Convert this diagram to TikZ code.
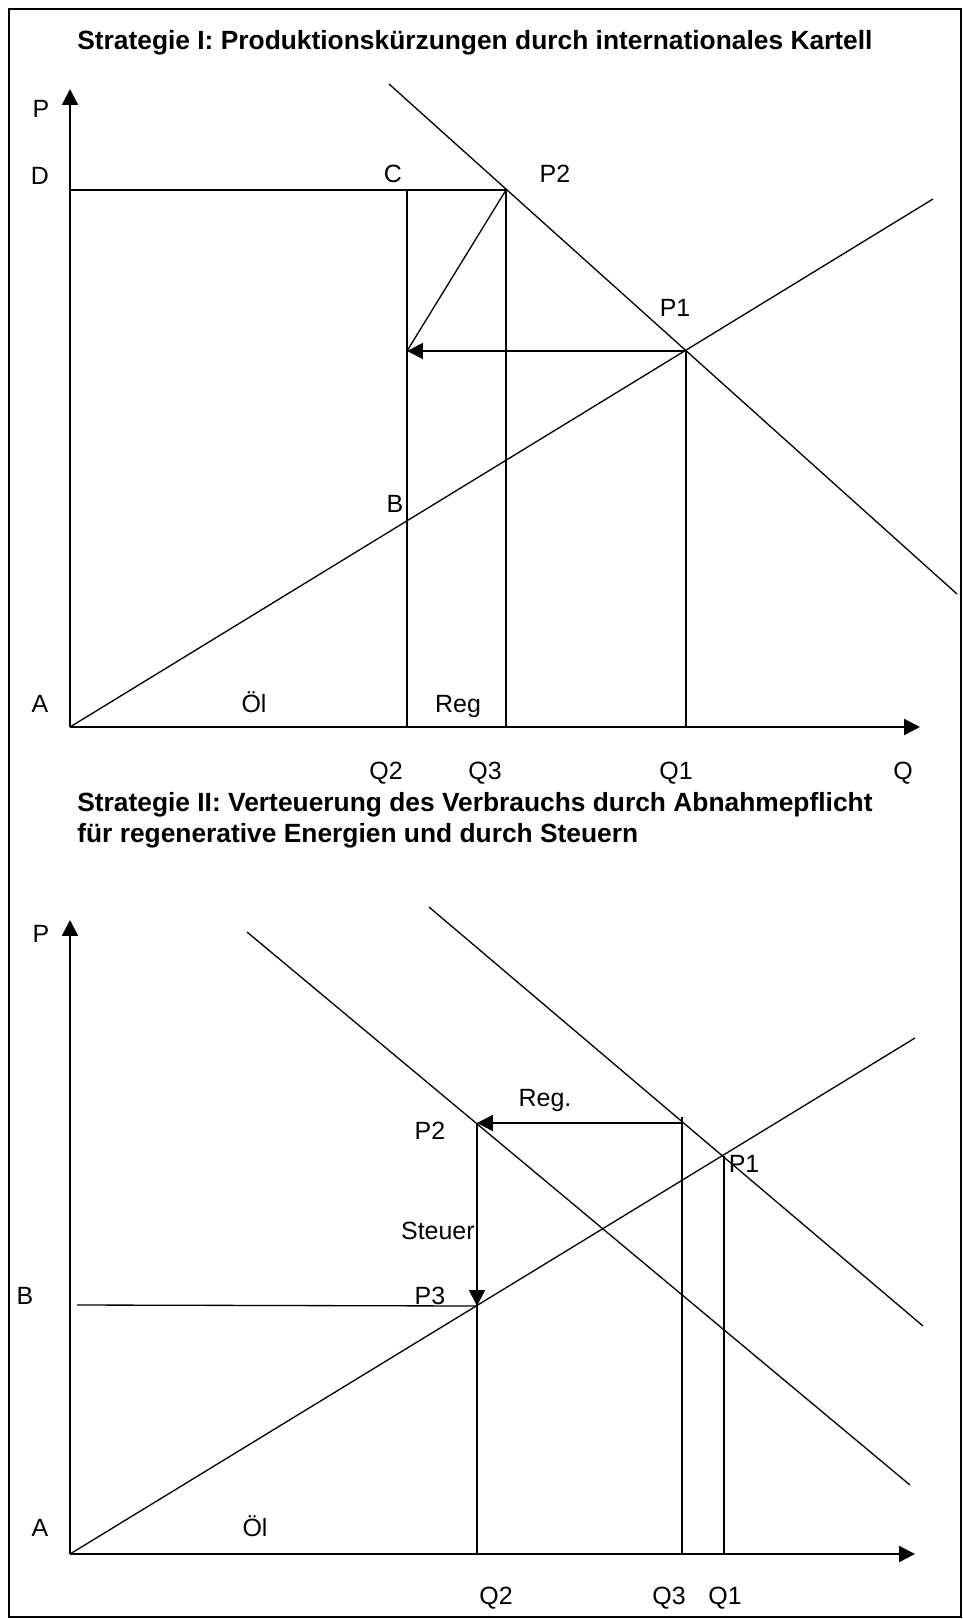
\documentclass[tikz,border=0pt]{standalone}
\usepackage{fontspec}
\setmainfont{Liberation Sans}
\usetikzlibrary{arrows.meta}

\begin{document}
\begin{tikzpicture}[
        x=0.02cm, y=-0.02cm,
        % Stile fuer Linien
        axis/.style={line width=1.3pt, -{Triangle[length=9pt, width=9pt]}},
        curve/.style={line width=0.75pt},
        movearrow/.style={line width=1pt, -{Triangle[length=9pt, width=9pt]}},
        % Stile fuer Beschriftungen
        lbl/.style={anchor=base, inner sep=0pt, font=\fontsize{14.2}{17}\selectfont},
        headline/.style={anchor=base west, inner sep=0pt, align=left, font=\fontsize{15}{17.5}\selectfont\bfseries}
    ]
    \useasboundingbox (0,0) rectangle (963,1619);
    \draw[line width=1.3pt] (9,9) rectangle (961,1617);

    % --- STRATEGIE I ---
    \node[headline] (T1) at (77,50) {Strategie I: Produktionskürzungen durch internationales Kartell};

    \coordinate (A1) at (70,727);
    \coordinate (Py1) at (70,89);
    \coordinate (Qx1) at (920,727);
    \coordinate (D1) at (70,190);
    \coordinate (C1) at (407,190);
    \coordinate (E1) at (407,351);
    \coordinate (P2a) at (506,190);
    \coordinate (P1a) at (686,351);
    \coordinate (Q2a) at (407,727);
    \coordinate (Q3a) at (506,727);
    \coordinate (Q1a) at (686,727);
    \coordinate (Sa) at (933,199);
    \coordinate (Na) at (389,84);
    \coordinate (Nb) at (957,594);

    \draw[axis] (A1) -- (Py1);
    \draw[axis] (A1) -- (Qx1);
    \draw[curve] (A1) -- (Sa);
    \draw[curve] (Na) -- (Nb);
    \draw[curve] (D1) -- (P2a);
    \draw[curve] (C1) -- (Q2a);
    \draw[curve] (P2a) -- (Q3a);
    \draw[curve] (P1a) -- (Q1a);
    \draw[curve] (P2a) -- (E1);
    \draw[movearrow] (P1a) -- (E1);

    \node[lbl] (LP1) at (41,117) {P};
    \node[lbl] (LD1) at (40,184) {D};
    \node[lbl] (LC1) at (393,182) {C};
    \node[lbl] (LP21) at (555,182) {P2};
    \node[lbl] (LP11) at (675,316) {P1};
    \node[lbl] (LB1) at (395,512) {B};
    \node[lbl] (LA1) at (40,712) {A};
    \node[lbl] (LOel1) at (254,712) {Öl};
    \node[lbl] (LReg1) at (458,712) {Reg};
    \node[lbl] (LQ21) at (386,779) {Q2};
    \node[lbl] (LQ31) at (485,779) {Q3};
    \node[lbl] (LQ11) at (676,779) {Q1};
    \node[lbl] (LQ1) at (903,779) {Q};

    % --- STRATEGIE II ---
    \node[headline] (T2) at (77,842) {Strategie II: Verteuerung des Verbrauchs durch Abnahmepflicht\\für regenerative Energien und durch Steuern};

    \coordinate (A2) at (70,1554);
    \coordinate (Py2) at (70,920);
    \coordinate (Qx2) at (915,1554);
    \coordinate (Sb) at (915,1038);
    \coordinate (Ma) at (247,932);
    \coordinate (Mb) at (910,1485);
    \coordinate (Ka) at (429,907);
    \coordinate (Kb) at (923,1326);
    \coordinate (P2b) at (477,1123);
    \coordinate (P3b) at (477,1306);
    \coordinate (P1b) at (724,1156);
    \coordinate (R3) at (682,1123);
    \coordinate (Rm) at (623,1123);
    \coordinate (T3) at (682,1117);
    \coordinate (B2) at (77,1305);
    \coordinate (Q2b) at (477,1554);
    \coordinate (Q3b) at (682,1554);
    \coordinate (Q1b) at (724,1554);

    \draw[axis] (A2) -- (Py2);
    \draw[axis] (A2) -- (Qx2);
    \draw[curve] (A2) -- (Sb);
    \draw[curve] (Ma) -- (Mb);
    \draw[curve] (Ka) -- (Kb);
    \draw[curve] (T3) -- (Q3b);
    \draw[curve] (P1b) -- (Q1b);
    \draw[curve] (P3b) -- (Q2b);
    \draw[curve] (B2) -- (P3b);
    \draw[curve] (R3) -- (Rm);
    \draw[movearrow, line width=1.3pt] (Rm) -- (P2b);
    \draw[movearrow] (P2b) -- (P3b);

    \node[lbl] (LP2) at (41,942) {P};
    \node[lbl] (LReg2) at (545,1106) {Reg.};
    \node[lbl] (LP22) at (430,1139) {P2};
    \node[lbl] (LP12) at (744,1172) {P1};
    \node[lbl, anchor=base east] (LSt) at (475,1239) {Steuer};
    \node[lbl] (LB2) at (25,1304) {B};
    \node[lbl] (LP32) at (430,1304) {P3};
    \node[lbl] (LA2) at (40,1536) {A};
    \node[lbl] (LOel2) at (255,1536) {Öl};
    \node[lbl] (LQ22) at (496,1604) {Q2};
    \node[lbl] (LQ32) at (669,1604) {Q3};
    \node[lbl] (LQ12) at (725,1604) {Q1};

\end{tikzpicture}
\end{document}
